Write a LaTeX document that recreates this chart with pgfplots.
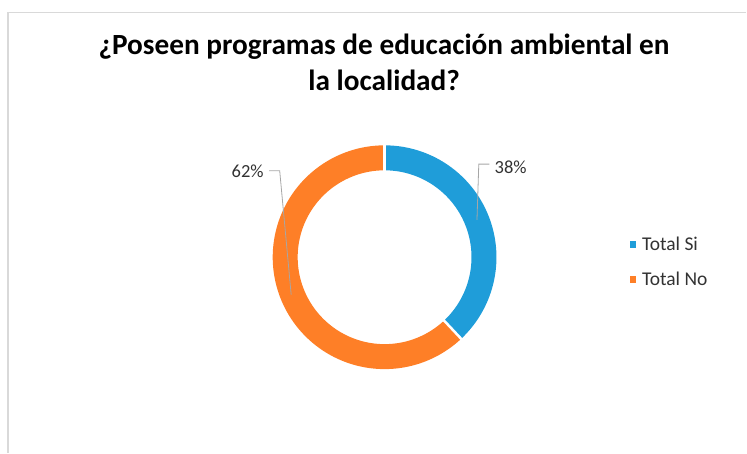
\documentclass[border=0pt]{standalone}
\usepackage{pgfplots}
\usepackage{pgfplotstable}
\pgfplotsset{compat=1.18}
\usepackage{fontspec}
\setmainfont{Carlito}
\definecolor{cblue}{RGB}{31,157,217}
\definecolor{corange}{RGB}{254,127,39}
\definecolor{ctext}{RGB}{50,50,50}
\definecolor{cframe}{RGB}{217,217,217}
\pgfplotstableread{
label value
Si 38
No 62
}\data
\begin{document}%
\begin{tikzpicture}
\pgfplotstablegetelem{0}{value}\of\data
\pgfmathsetmacro\angA{90-3.6*\pgfplotsretval}
\pgfmathsetmacro\cx{385}
\pgfmathsetmacro\cy{257.5}
\pgfmathsetmacro\rr{99.5}
\begin{axis}[
  width=747pt, height=453pt, scale only axis,
  xmin=0, xmax=747, ymin=0, ymax=453, y dir=reverse,
  hide axis, clip=false,
  legend style={draw=none, fill=none, at={(axis cs:630,236)}, anchor=north west,
    font=\fontsize{19.5}{23}\selectfont, text=ctext, row sep=18pt, inner sep=0pt,
    nodes={inner sep=1pt}},
  legend cell align=left,
  legend image code/.code={\fill[#1, draw=none, line width=0pt] (0pt,-3.2pt) rectangle (6.4pt,3.2pt);
    \path[draw=none, fill=none, line width=0pt] (0pt,0pt) -- (11.5pt,0pt);},
]
\path (axis cs:0,0) rectangle (axis cs:747,453);
% frame
\addplot[cframe, line width=1.6pt, forget plot] coordinates {(8,453) (8,12.5) (747,12.5)};
% ring segments
\addplot[cblue, line width=25pt, domain=\angA:90, samples=200, variable=\t] ({\cx+\rr*cos(\t)},{\cy-\rr*sin(\t)});
\addlegendentry{Total Si}
\addplot[corange, line width=25pt, domain=-270:\angA, samples=300, variable=\t] ({\cx+\rr*cos(\t)},{\cy-\rr*sin(\t)});
\addlegendentry{Total No}
% separators
\addplot[white, line width=2.5pt, forget plot, domain=85:114, samples=2, variable=\t] ({\cx+\t*cos(90)},{\cy-\t*sin(90)});
\addplot[white, line width=2.5pt, forget plot, domain=85:114, samples=2, variable=\t] ({\cx+\t*cos(\angA)},{\cy-\t*sin(\angA)});
% leader lines
\addplot[gray!70, line width=0.8pt, forget plot] coordinates {(490,164.3) (479.3,164.3) (477.5,220)};
\addplot[gray!70, line width=0.8pt, forget plot] coordinates {(269.3,171) (280,171) (291.5,295)};
% labels
\node[anchor=base west, inner sep=0pt, text=ctext, font=\fontsize{18.5}{22}\selectfont] at (axis cs:495,173.3) {38\%};
\node[anchor=base west, inner sep=0pt, text=ctext, font=\fontsize{18.5}{22}\selectfont] at (axis cs:231.7,177.3) {62\%};
% title
\node[anchor=base, inner sep=0pt, font=\bfseries\fontsize{29.3}{34}\selectfont] at (axis cs:384.5,55) {¿Poseen programas de educación ambiental en};
\node[anchor=base, inner sep=0pt, font=\bfseries\fontsize{29.3}{34}\selectfont] at (axis cs:384.5,91) {la localidad?};
\end{axis}
\end{tikzpicture}%
\end{document}
